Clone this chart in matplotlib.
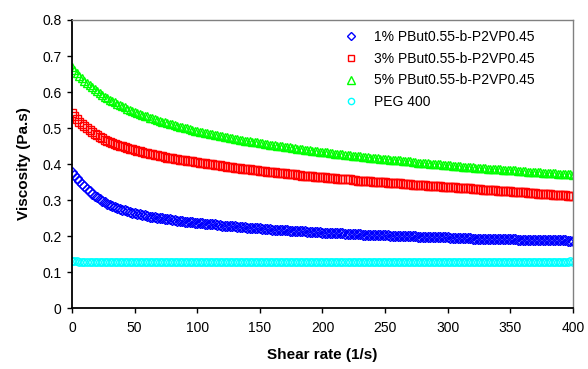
import numpy as np
import matplotlib.pyplot as plt
from matplotlib.ticker import FuncFormatter

plt.rcParams['font.family'] = ['Liberation Sans', 'DejaVu Sans']

# shear rate (1/s)
shear_rate = list(range(0, 401, 2))

# viscosity (Pa.s)
visc_1pc = [0.378, 0.370, 0.362, 0.353, 0.345, 0.338, 0.331, 0.324, 0.318, 0.312,
            0.307, 0.302, 0.298, 0.294, 0.290, 0.287, 0.284, 0.281, 0.278, 0.275,
            0.273, 0.271, 0.269, 0.267, 0.265, 0.263, 0.262, 0.260, 0.258, 0.257,
            0.255, 0.254, 0.253, 0.252, 0.251, 0.250, 0.249, 0.248, 0.247, 0.246,
            0.245, 0.244, 0.243, 0.242, 0.241, 0.240, 0.239, 0.239, 0.238, 0.237,
            0.236, 0.236, 0.235, 0.234, 0.233, 0.233, 0.232, 0.232, 0.231, 0.230,
            0.229, 0.229, 0.228, 0.228, 0.227, 0.227, 0.226, 0.226, 0.225, 0.224,
            0.223, 0.223, 0.222, 0.222, 0.221, 0.221, 0.220, 0.220, 0.219, 0.219,
            0.218, 0.218, 0.217, 0.217, 0.217, 0.216, 0.216, 0.215, 0.215, 0.215,
            0.214, 0.214, 0.213, 0.213, 0.212, 0.212, 0.211, 0.211, 0.210, 0.210,
            0.209,
            0.209, 0.208, 0.208, 0.208, 0.207, 0.207, 0.207, 0.207, 0.206, 0.206,
            0.206, 0.205, 0.205, 0.205, 0.205, 0.204, 0.204, 0.204, 0.203, 0.203,
            0.203, 0.203, 0.202, 0.202, 0.202, 0.202, 0.201, 0.201, 0.201, 0.200,
            0.200, 0.200, 0.200, 0.199, 0.199, 0.199, 0.199, 0.198, 0.198, 0.198,
            0.197, 0.197, 0.197, 0.197, 0.197, 0.196, 0.196, 0.196, 0.196, 0.196,
            0.195, 0.195, 0.195, 0.195, 0.194, 0.194, 0.194, 0.194, 0.194, 0.193,
            0.193, 0.193, 0.193, 0.193, 0.193, 0.192, 0.192, 0.192, 0.192, 0.192,
            0.192, 0.191, 0.191, 0.191, 0.191, 0.191, 0.191, 0.190, 0.190, 0.190,
            0.190, 0.190, 0.190, 0.189, 0.189, 0.189, 0.189, 0.189, 0.189, 0.188,
            0.188, 0.188, 0.188, 0.188, 0.188, 0.188, 0.188, 0.187, 0.187, 0.187]
visc_3pc = [0.541, 0.533, 0.525, 0.518, 0.511, 0.505, 0.499, 0.494, 0.489, 0.484,
            0.480, 0.476, 0.472, 0.468, 0.465, 0.462, 0.459, 0.456, 0.454, 0.451,
            0.449, 0.447, 0.445, 0.443, 0.441, 0.439, 0.437, 0.435, 0.433, 0.431,
            0.430, 0.428, 0.427, 0.425, 0.424, 0.422, 0.421, 0.419, 0.418, 0.417,
            0.416, 0.415, 0.414, 0.412, 0.411, 0.410, 0.409, 0.408, 0.407, 0.406,
            0.405,
            0.404, 0.403, 0.402, 0.401, 0.400, 0.399, 0.398, 0.397, 0.396, 0.395,
            0.394, 0.393, 0.392, 0.391, 0.390, 0.389, 0.388, 0.387, 0.386, 0.385,
            0.385, 0.384, 0.383, 0.382, 0.381, 0.380, 0.380, 0.379, 0.378, 0.377,
            0.377, 0.376, 0.375, 0.374, 0.374, 0.373, 0.372, 0.371, 0.371, 0.370,
            0.369, 0.368, 0.368, 0.367, 0.367, 0.366, 0.365, 0.364, 0.364, 0.363,
            0.363, 0.362, 0.361, 0.360, 0.360, 0.359, 0.359, 0.358, 0.358, 0.357,
            0.357, 0.356, 0.355, 0.354, 0.354, 0.353, 0.353, 0.352, 0.352, 0.351,
            0.351, 0.350, 0.350, 0.349, 0.349, 0.348, 0.348, 0.347, 0.347, 0.346,
            0.346, 0.345, 0.345, 0.344, 0.344, 0.343, 0.343, 0.342, 0.342, 0.341,
            0.341, 0.340, 0.340, 0.339, 0.339, 0.338, 0.338, 0.337, 0.337, 0.336,
            0.336, 0.335, 0.335, 0.334, 0.334, 0.333, 0.333, 0.332, 0.332, 0.331,
            0.331, 0.330, 0.330, 0.329, 0.329, 0.328, 0.328, 0.327, 0.327, 0.326,
            0.326, 0.325, 0.325, 0.324, 0.324, 0.323, 0.323, 0.322, 0.322, 0.321,
            0.321, 0.320, 0.320, 0.319, 0.319, 0.318, 0.318, 0.317, 0.317, 0.316,
            0.316, 0.315, 0.315, 0.314, 0.314, 0.313, 0.313, 0.312, 0.312, 0.311]
visc_5pc = [0.670, 0.661, 0.653, 0.645, 0.638, 0.631, 0.625, 0.619, 0.613, 0.607,
            0.602, 0.597, 0.592, 0.587, 0.583, 0.579, 0.575, 0.571, 0.567, 0.563,
            0.560, 0.557, 0.554, 0.551, 0.548, 0.545, 0.542, 0.539, 0.537, 0.534,
            0.532, 0.529, 0.527, 0.525, 0.523, 0.520, 0.518, 0.516, 0.514, 0.512,
            0.510, 0.508, 0.506, 0.504, 0.502, 0.500, 0.499, 0.497, 0.495, 0.493,
            0.492,
            0.490, 0.489, 0.487, 0.486, 0.484, 0.483, 0.481, 0.480, 0.478, 0.477,
            0.475, 0.474, 0.473, 0.472, 0.470, 0.469, 0.468, 0.467, 0.465, 0.464,
            0.463, 0.462, 0.461, 0.460, 0.458, 0.457, 0.456, 0.455, 0.454, 0.453,
            0.452, 0.451, 0.450, 0.449, 0.448, 0.447, 0.446, 0.445, 0.444, 0.443,
            0.442, 0.441, 0.440, 0.439, 0.438, 0.437, 0.436, 0.435, 0.434, 0.434,
            0.433, 0.432, 0.431, 0.430, 0.429, 0.428, 0.428, 0.427, 0.426, 0.425,
            0.424, 0.423, 0.423, 0.422, 0.421, 0.420, 0.420, 0.419, 0.418, 0.417,
            0.417, 0.416, 0.415, 0.414, 0.414, 0.413, 0.412, 0.411, 0.411, 0.410,
            0.410, 0.409, 0.408, 0.407, 0.407, 0.406, 0.405, 0.404, 0.404, 0.403,
            0.403, 0.402, 0.401, 0.400, 0.400, 0.399, 0.399, 0.398, 0.398, 0.397,
            0.396, 0.395, 0.395, 0.394, 0.394, 0.393, 0.393, 0.392, 0.392, 0.391,
            0.390, 0.389, 0.389, 0.388, 0.388, 0.387, 0.387, 0.386, 0.386, 0.385,
            0.385, 0.384, 0.384, 0.383, 0.383, 0.382, 0.382, 0.381, 0.381, 0.380,
            0.380, 0.379, 0.379, 0.378, 0.378, 0.377, 0.377, 0.376, 0.376, 0.375,
            0.375, 0.374, 0.374, 0.373, 0.373, 0.372, 0.372, 0.371, 0.371, 0.370]
visc_peg = ([0.131, 0.130, 0.130, 0.129, 0.128] + [0.127] * 190
            + [0.128, 0.129, 0.129, 0.129, 0.130, 0.129])

labels = ['1% PBut0.55-b-P2VP0.45', '3% PBut0.55-b-P2VP0.45',
          '5% PBut0.55-b-P2VP0.45', 'PEG 400']

fig = plt.figure(figsize=(5.88, 3.69), dpi=100)
ax = fig.add_axes([0.1224, 0.1653, 0.852, 0.7805])

ax.plot(shear_rate, visc_1pc, 'D', color='#0000ff', mfc='none', ms=4.8, mew=1, label=labels[0])
ax.plot(shear_rate, visc_3pc, 's', color='#ff0000', mfc='none', ms=5.3, mew=1, label=labels[1])
ax.plot(shear_rate, visc_5pc, '^', color='#00ff00', mfc='none', ms=6, mew=1, label=labels[2])
ax.plot(shear_rate, visc_peg, 'o', color='#00ffff', mfc='none', ms=5.3, mew=1, label=labels[3])

ax.set_xlim(0, 400)
ax.set_ylim(0, 0.8)
ax.set_xticks(range(0, 401, 50))
ax.set_yticks(np.arange(0, 0.81, 0.1))
ax.yaxis.set_major_formatter(FuncFormatter(lambda v, p: '0' if abs(v) < 1e-9 else '%.1f' % v))
ax.tick_params(direction='out', length=3.5, width=1, labelsize=10, colors='black', pad=4)
ax.tick_params(axis='x', pad=6)

for s in ['left', 'bottom']:
    ax.spines[s].set_linewidth(1.3)
    ax.spines[s].set_color('black')
for s in ['top', 'right']:
    ax.spines[s].set_linewidth(1)
    ax.spines[s].set_color('#808080')

ax.set_xlabel('Shear rate (1/s)', fontsize=11, fontweight='bold', labelpad=9)
ax.set_ylabel('Viscosity (Pa.s)', fontsize=11, fontweight='bold', labelpad=8)

ax.legend(loc='upper left', bbox_to_anchor=(0.562, 0.952), bbox_transform=fig.transFigure,
          frameon=False, fontsize=10, handlelength=1.2, handletextpad=1.0,
          labelspacing=0.55, markerscale=0.85)

fig.savefig('out.png', dpi=100)
